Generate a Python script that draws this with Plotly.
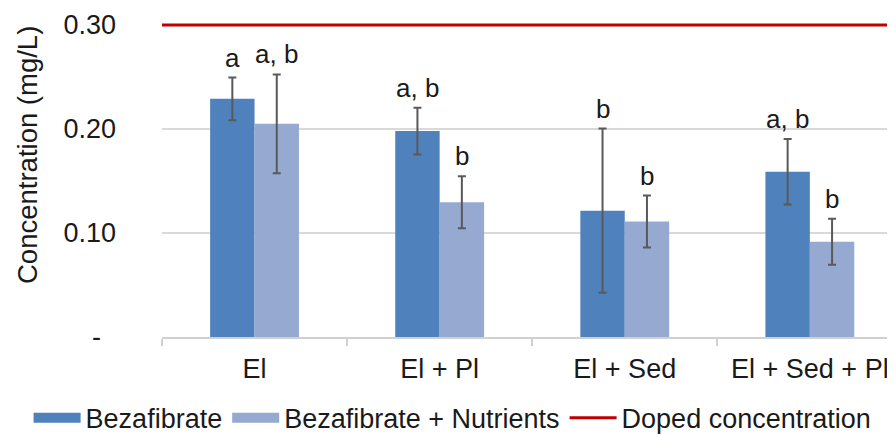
import plotly.graph_objects as go

categories = ["El", "El + Pl", "El + Sed", "El + Sed + Pl"]
beza = [0.229, 0.198, 0.1215, 0.159]
beza_err = [0.0205, 0.0225, 0.079, 0.0315]
nutr = [0.205, 0.1296, 0.111, 0.0916]
nutr_err = [0.0475, 0.025, 0.025, 0.022]
beza_letters = ["a", "a, b", "b", "a, b"]
nutr_letters = ["a, b", "b", "b", "b"]
doped = 0.30
tick_vals = [0, 0.10, 0.20, 0.30]
tick_text = ["-\u00a0\u00a0", "0.10", "0.20", "0.30"]

FONT = "Liberation Sans, Arial, sans-serif"
C1 = "#4F81BD"
C2 = "#95A9D1"
RED = "#C00000"
ERRC = "#595959"

fig = go.Figure()
fig.add_trace(go.Bar(x=categories, y=beza, name="Bezafibrate", marker_color=C1,
                     marker_line_width=0, showlegend=False,
                     error_y=dict(type="data", array=beza_err, color=ERRC, thickness=2, width=4)))
fig.add_trace(go.Bar(x=categories, y=nutr, name="Bezafibrate + Nutrients", marker_color=C2,
                     marker_line_width=0, showlegend=False,
                     error_y=dict(type="data", array=nutr_err, color=ERRC, thickness=2, width=4)))
# legend entries
fig.add_trace(go.Scatter(x=[None], y=[None], mode="lines", name="Bezafibrate",
                         line=dict(color=C1, width=12)))
fig.add_trace(go.Scatter(x=[None], y=[None], mode="lines", name="Bezafibrate + Nutrients",
                         line=dict(color=C2, width=12)))
fig.add_trace(go.Scatter(x=[0, 1], y=[doped, doped], mode="lines", name="Doped concentration",
                         xaxis="x2", line=dict(color=RED, width=3), hoverinfo="skip"))

half = (1 - 0.52) / 4
for i in range(len(categories)):
    fig.add_annotation(x=i - half, y=beza[i] + beza_err[i], text=beza_letters[i],
                       showarrow=False, yanchor="bottom", yshift=3,
                       font=dict(size=26, color="#1a1a1a", family=FONT))
    fig.add_annotation(x=i + half, y=nutr[i] + nutr_err[i], text=nutr_letters[i],
                       showarrow=False, yanchor="bottom", yshift=3,
                       font=dict(size=26, color="#1a1a1a", family=FONT))

fig.add_annotation(text="Concentration (mg/L)", textangle=-90, xref="paper", yref="paper",
                   x=0, xshift=-134, y=0.5566, xanchor="center", yanchor="middle",
                   showarrow=False, font=dict(size=27.5, color="#1a1a1a", family=FONT))

fig.update_layout(
    width=887, height=427,
    margin=dict(l=154, r=0, t=2, b=98, pad=0, autoexpand=False),
    paper_bgcolor="white", plot_bgcolor="white",
    barmode="group", bargap=0.52, bargroupgap=0,
    font=dict(family=FONT, size=27, color="#1a1a1a"),
    xaxis=dict(type="category", range=[-0.5, 3.46], showgrid=False, showline=True,
               linecolor="#D0D0D0", linewidth=1.5, ticks="outside", tickson="boundaries",
               ticklen=7, tickcolor="#D0D0D0", tickwidth=1.5, ticklabelstandoff=7,
               tickfont=dict(size=27), automargin=False),
    xaxis2=dict(overlaying="x", range=[0, 1], visible=False),
    yaxis=dict(range=[0, 0.30 + 15 / 1037], tickvals=tick_vals, ticktext=tick_text,
               showgrid=True, gridcolor="#D9D9D9", gridwidth=1.5, zeroline=False,
               showline=False, ticks="", ticklabelstandoff=45, tickfont=dict(size=27),
               automargin=False),
    legend=dict(orientation="h", yref="paper", xref="paper", x=-0.182, y=-0.248,
                xanchor="left", yanchor="middle", font=dict(size=27), itemwidth=47,
                tracegroupgap=0, bgcolor="rgba(0,0,0,0)"),
    showlegend=True,
)

fig.write_html("out.html")
